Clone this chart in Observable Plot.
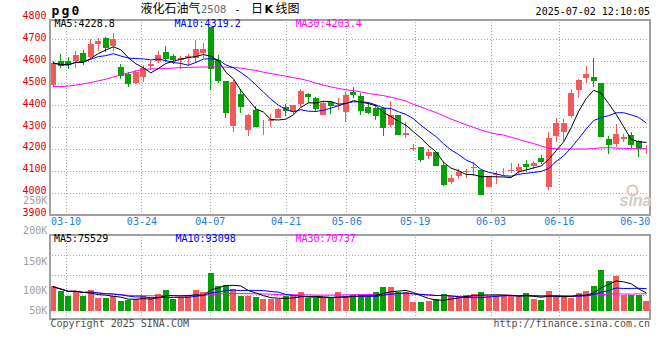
<!DOCTYPE html>
<html>
<head>
<meta charset="utf-8">
<script src="https://cdn.jsdelivr.net/npm/d3@7"></script>
<script src="https://cdn.jsdelivr.net/npm/@observablehq/plot@0.6"></script>
<style>
html,body{margin:0;padding:0;background:#fff;}
#chart{position:relative;width:660px;height:360px;overflow:hidden;background:#fff;}
#chart svg{position:absolute;left:0;}
</style>
</head>
<body>
<div id="chart"></div>
<script>
// ---------------- data ----------------
const dates = [
"03-06","03-07","03-10","03-11","03-12","03-13","03-14","03-17","03-18","03-19",
"03-20","03-21","03-24","03-25","03-26","03-27","03-28","03-31","04-01","04-02",
"04-03","04-07","04-08","04-09","04-10","04-11","04-14","04-15","04-16","04-17",
"04-18","04-21","04-22","04-23","04-24","04-25","04-28","04-29","04-30","05-06",
"05-07","05-08","05-09","05-12","05-13","05-14","05-15","05-16","05-19","05-20",
"05-21","05-22","05-23","05-26","05-27","05-28","05-29","05-30","06-03","06-04",
"06-05","06-06","06-09","06-10","06-11","06-12","06-13","06-16","06-17","06-18",
"06-19","06-20","06-23","06-24","06-25","06-26","06-27","06-30","07-01","07-02"];
const open = [
4491,4599,4599,4599,4637,4617,4675,4703,4666,4572,
4538,4496,4525,4576,4601,4641,4620,4603,4611,4614,
4636,4752,4602,4507,4301,4450,4285,4377,4287,4324,
4339,4389,4365,4400,4446,4428,4354,4412,4392,4365,
4458,4441,4389,4385,4385,4308,4351,4262,4200,4206,
4163,4181,4125,4044,4071,4091,4108,4099,4025,4079,
4090,4094,4097,4129,4117,4155,4021,4255,4273,4346,
4464,4522,4525,4496,4243,4221,4244,4259,4235,4201];
const high = [
4601,4632,4619,4648,4652,4701,4706,4709,4729,4586,
4553,4559,4583,4601,4647,4670,4635,4622,4634,4698,
4682,4752,4629,4507,4515,4473,4357,4395,4331,4357,
4388,4403,4400,4473,4454,4438,4418,4418,4431,4461,
4483,4454,4412,4400,4392,4418,4351,4320,4220,4209,
4198,4181,4140,4079,4106,4106,4140,4102,4074,4097,
4112,4135,4135,4148,4145,4171,4278,4339,4336,4473,
4518,4576,4617,4502,4259,4313,4267,4275,4239,4217];
const low = [
4488,4571,4565,4568,4583,4614,4649,4640,4649,4519,
4480,4496,4507,4560,4591,4598,4588,4565,4576,4593,
4616,4467,4499,4342,4275,4365,4259,4301,4265,4301,
4339,4351,4360,4392,4408,4369,4354,4357,4377,4324,
4431,4354,4357,4331,4259,4301,4262,4250,4189,4140,
4151,4125,4030,4038,4061,4067,4076,3987,4025,4041,
4079,4087,4085,4094,4106,4129,4013,4232,4235,4339,
4434,4502,4480,4255,4178,4206,4232,4204,4163,4178];
const close = [
4594,4580,4583,4632,4599,4680,4694,4661,4706,4533,
4499,4555,4570,4588,4633,4614,4606,4617,4625,4657,
4659,4568,4512,4365,4507,4392,4357,4301,4293,4336,
4382,4376,4400,4464,4437,4382,4412,4397,4403,4450,
4449,4377,4365,4354,4295,4357,4267,4276,4203,4152,
4186,4125,4038,4067,4094,4100,4120,3992,4071,4087,
4097,4105,4120,4117,4135,4140,4252,4320,4320,4458,
4515,4542,4512,4255,4221,4270,4258,4221,4201,4207];
const volume = [
109000,90000,68000,90000,64000,94000,56000,56000,64000,45000,
49000,54000,68000,55000,76000,94000,54000,62000,64000,94000,
82000,171000,112000,116000,98000,68000,68000,60000,54000,54000,
54000,66000,69000,82000,57000,57000,57000,57000,82000,64000,
69000,69000,69000,85000,106000,106000,84000,85000,37000,37000,
42000,52000,76000,64000,64000,72000,76000,85000,67000,67000,
69000,69000,60000,81000,54000,49000,90000,66000,66000,58000,
80000,90000,112000,184000,134000,157000,70000,70000,70000,45000];
const ma30 = [
4487,4487,4489,4493,4499,4505,4513,4520,4530,4540,
4549,4557,4565,4567,4568,4569,4571,4573,4574,4575,
4576,4576,4576,4575,4573,4571,4565,4560,4552,4546,
4540,4534,4527,4521,4513,4502,4493,4485,4478,4472,
4468,4462,4455,4450,4445,4438,4430,4420,4405,4393,
4380,4368,4353,4338,4325,4312,4300,4288,4278,4270,
4265,4255,4245,4235,4226,4215,4205,4202,4201,4201,
4201,4201,4203,4207,4207,4205,4204,4203,4202,4203];
const dateTicks = ["03-10","03-24","04-07","04-21","05-06","05-19","06-03","06-16","06-30"];
const priceTicks = [3900,4000,4100,4200,4300,4400,4500,4600,4700,4800];
const volTickLabels = ["250K","200K","150K","100K","50K"];
const volGridValues = [50000,100000,150000];
const priceMALabels = ["MA5:4228.8","MA10:4319.2","MA30:4203.4"];
const volMALabels = ["MA5:75529","MA10:93098","MA30:70737"];
const symbol = "pg0";
const titleParts = ["液化石油气","2508","-","日","K","线图"];
const timestamp = "2025-07-02 12:10:05";
const footer = ["Copyright 2025 SINA.COM","http://finance.sina.com.cn"];
const watermark = "sina";

// ---------------- layout / style ----------------
const idx = d3.range(dates.length);
const RED = "#f55a5a", GREEN = "#05a005";
const col = i => close[i] >= open[i] ? RED : GREEN;
const MONO = '"DejaVu Sans Mono", monospace';
const CJK = '"Noto Sans CJK SC", sans-serif';
const FL = 49, FR = 649.4;
const base = {width:660, marginLeft:FL, marginRight:660-FR, color:{type:"identity"},
  style:{background:"transparent", fontFamily:MONO, fontSize:"10px", overflow:"visible"}};
const xCandle = {type:"linear", domain:[-0.5, dates.length-0.5], axis:null};
const gx0 = 50.33, gstep = 7.59;
const xGrid = {type:"linear", domain:[(FL-gx0)/gstep, (FR-gx0)/gstep]};
const labelIdx = dateTicks.map(d => dates.indexOf(d));
const gridIdx = labelIdx.slice(0, -1);
const dotted = {stroke:"#aaaaaa", strokeOpacity:1, strokeDasharray:"1,2", shapeRendering:"crispEdges"};
const frameStyle = {stroke:"#a0a0a0", strokeWidth:2, shapeRendering:"crispEdges"};
const crisp = {shapeRendering:"crispEdges"};
const chart = document.getElementById("chart");
function place(svg, top, z){ svg.style.top = top + "px"; svg.style.zIndex = z; chart.appendChild(svg); }

// price panel
const pH = 230, pTop = 19, pBottom = 214.4;
const yPriceDomain = [3900, 4793];
place(Plot.plot({...base, height:pH, marginTop:pTop, marginBottom:pH-pBottom, x:xGrid, y:{domain:yPriceDomain},
  marks:[
    Plot.gridY(priceTicks.filter(t => t > 3900 && t < 4793), dotted),
    Plot.gridX(gridIdx, dotted),
    Plot.axisY(priceTicks, {tickSize:0, tickPadding:3, dy:-2, fill:"#e00000", label:null, tickFormat:d => String(d)}),
    Plot.axisX(labelIdx, {tickSize:0, tickPadding:3, fill:"#1a80d8", label:null, tickFormat:i => dates[i]})
  ]}), 0, 1);

place(Plot.plot({...base, height:pH, marginTop:pTop, marginBottom:pH-pBottom, x:xCandle, y:{domain:yPriceDomain, axis:null},
  marks:[
    Plot.ruleX(idx, {x:i => i, y1:i => low[i], y2:i => high[i], stroke:col, strokeWidth:1, ...crisp}),
    Plot.ruleX(idx, {x:i => i, y1:i => open[i], y2:i => close[i], stroke:col, strokeWidth:6, insetTop:-0.5, insetBottom:-0.5, ...crisp}),
    Plot.line(idx, {x:i => i, y:i => ma30[i], stroke:"#ff00ff", strokeWidth:1}),
    Plot.line(idx, Plot.windowY({k:10, anchor:"end", strict:false}, {x:i => i, y:i => close[i], stroke:"#0000ff", strokeWidth:1})),
    Plot.line(idx, Plot.windowY({k:5, anchor:"end", strict:false}, {x:i => i, y:i => close[i], stroke:"#000000", strokeWidth:1})),
    Plot.frame(frameStyle)
  ]}), 0, 2);

// volume panel
const vH = 100, vTop = 230, vMT = 234.3 - vTop, vMB = vTop + vH - 318;
place(Plot.plot({...base, height:vH, marginTop:vMT, marginBottom:vMB, x:{...xGrid, axis:null}, y:{domain:[-5650, 200000], axis:null},
  marks:[ Plot.gridY(volGridValues, dotted), Plot.gridX(gridIdx, dotted) ]}), vTop, 1);

place(Plot.plot({...base, height:vH, marginTop:vMT, marginBottom:vMB, x:xCandle, y:{domain:[-32700, 342300], axis:null},
  marks:[
    Plot.ruleX(idx, {x:i => i, y1:0, y2:i => volume[i], stroke:col, strokeWidth:6, ...crisp}),
    Plot.line(idx, Plot.windowY({k:30, anchor:"end", strict:false}, {x:i => i, y:i => volume[i], stroke:"#ff00ff", strokeWidth:1})),
    Plot.line(idx, Plot.windowY({k:10, anchor:"end", strict:false}, {x:i => i, y:i => volume[i], stroke:"#0000ff", strokeWidth:1})),
    Plot.line(idx, Plot.windowY({k:5, anchor:"end", strict:false}, {x:i => i, y:i => volume[i], stroke:"#000000", strokeWidth:1})),
    Plot.frame(frameStyle)
  ]}), vTop, 2);

// texts
const T = (text, x, y, o = {}) => Plot.text([text], {text:d => d, frameAnchor:"top-left", dx:x, dy:y,
  lineAnchor:"middle", textAnchor:o.anchor || "start", fill:o.fill || "#000", fontSize:o.size || 10,
  fontFamily:o.font || MONO, fontWeight:o.weight || "normal", fontStyle:o.style || "normal"});
const maColors = ["#000000", "#0000ff", "#ff00ff"];
const annot = [
  ...symbol.split("").map((c, k) => T(c, 51 + 10 * k, 10.5, {size:13, weight:"bold"})),
  T(titleParts[0], 140, 8.7, {font:CJK, size:12}),
  T(titleParts[1], 200.5, 9.3, {font:'"DejaVu Sans", sans-serif', size:10, fill:"#666"}),
  T(titleParts[2], 234, 9, {size:10}),
  T(titleParts[3], 250.5, 8.7, {font:CJK, size:12}),
  T(titleParts[4], 264, 8.7, {font:'"DejaVu Sans", sans-serif', size:11, weight:"bold"}),
  T(titleParts[5], 275, 8.7, {font:CJK, size:12}),
  T(timestamp, 649.5, 11.5, {anchor:"end"}),
  ...priceMALabels.map((s, k) => T(s, [54, 174, 295][k], 23.5, {fill:maColors[k]})),
  ...volMALabels.map((s, k) => T(s, [53.5, 175, 295][k], 238.3, {fill:maColors[k]})),
  ...volTickLabels.map((s, k) => T(s, 46.7, [200.7, 230.7, 261.3, 290.3, 310.7][k], {anchor:"end", fill:"#a0a0a0"})),
  T(footer[0], 50, 323, {fill:"#505050"}),
  T(footer[1], 649.5, 323, {anchor:"end", fill:"#505050"}),
  Plot.dot([0], {frameAnchor:"top-left", dx:632, dy:190, r:5, stroke:"#f4b6b6", strokeWidth:2, fill:"none"}),
  T(watermark, 619, 200, {size:16, weight:"bold", style:"italic", fill:"#cccccc", font:'"Liberation Sans", sans-serif'})
];
place(Plot.plot({width:660, height:360, margin:0, style:{background:"transparent", overflow:"visible"}, marks:annot}), 0, 3);
</script>
</body>
</html>
